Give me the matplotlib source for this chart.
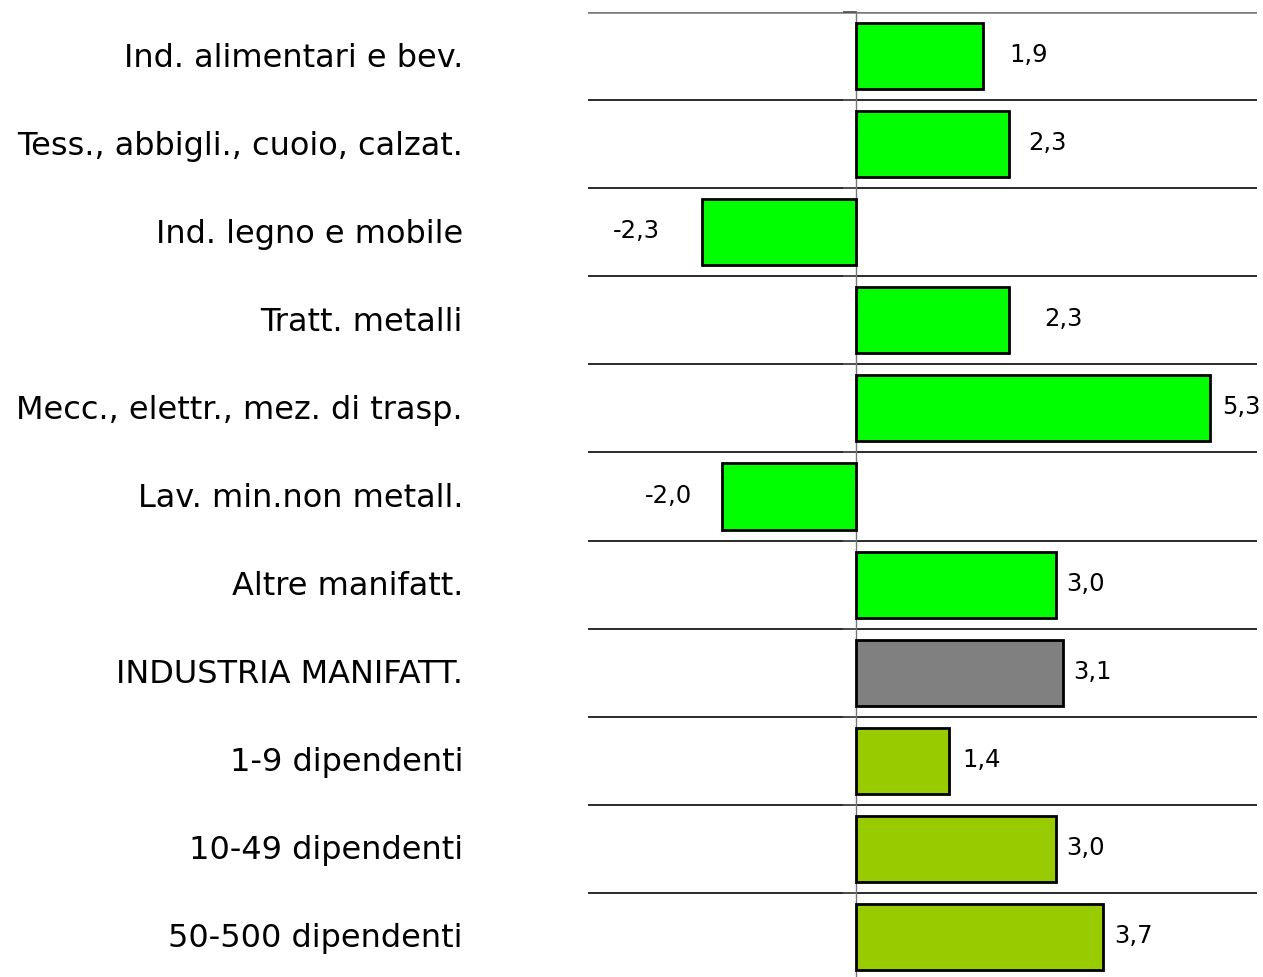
import matplotlib
matplotlib.use("Agg")
import matplotlib.pyplot as plt
from matplotlib.transforms import offset_copy

categories = [
    "Ind. alimentari e bev.",
    "Tess., abbigli., cuoio, calzat.",
    "Ind. legno e mobile",
    "Tratt. metalli",
    "Mecc., elettr., mez. di trasp.",
    "Lav. min.non metall.",
    "Altre manifatt.",
    "INDUSTRIA MANIFATT.",
    "1-9 dipendenti",
    "10-49 dipendenti",
    "50-500 dipendenti",
]
values = [1.9, 2.3, -2.3, 2.3, 5.3, -2.0, 3.0, 3.1, 1.4, 3.0, 3.7]
value_labels = ["1,9", "2,3", "-2,3", "2,3", "5,3", "-2,0", "3,0", "3,1", "1,4", "3,0", "3,7"]
groups = ["sector"] * 7 + ["total"] + ["size"] * 3

group_colors = {"sector": "#00FF00", "total": "#808080", "size": "#99CC00"}
# gap between bar end and value label (pixels), as placed in the original
label_gaps_px = [27, 19, 42, 35, 12, 30, 10, 10, 13, 10, 11]

plt.rcParams["font.family"] = ["DejaVu Sans"]

W, H, DPI = 1263, 977, 100
fig = plt.figure(figsize=(W / DPI, H / DPI), dpi=DPI)
ax = fig.add_axes([588 / W, 1 - 981 / H, 669 / W, 969 / H])

n = len(categories)
ypos = list(range(n))
colors = [group_colors[g] for g in groups]
ax.barh(ypos, values, height=0.75, color=colors, edgecolor="black", linewidth=2.0, zorder=3)

ax.set_xlim(-4, 6)
ax.set_ylim(n - 0.5, -0.5)
for s in ax.spines.values():
    s.set_visible(False)
ax.set_xticks([])
ax.set_yticks([])

# horizontal separators
for i in range(n + 1):
    b = i - 0.5
    col = "#777777" if i == 0 else "#1a1a1a"
    lw = 1.8 if i == 0 else 1.3
    ax.axhline(b, color=col, linewidth=lw, zorder=1)
    # small tick at zero line
    ax.plot([-0.18, 0], [b, b], color="#555555", linewidth=1.3, zorder=2, clip_on=False)

ax.axvline(0, color="#777777", linewidth=1.0, zorder=2)

# category labels
for i, c in enumerate(categories):
    tr = offset_copy(ax.get_yaxis_transform(), fig=fig, x=0, y=-2 * 72 / DPI, units="points")
    ax.text(-(588 - 463) / 669, i, c, transform=tr,
            ha="right", va="center", fontsize=23, color="black")

# value labels
for i, (v, lab, gap) in enumerate(zip(values, value_labels, label_gaps_px)):
    dx = gap * 72 / DPI * (1 if v >= 0 else -1)
    tr = offset_copy(ax.transData, fig=fig, x=dx, y=1 * 72 / DPI, units="points")
    ax.text(v, i, lab, transform=tr, ha="left" if v >= 0 else "right",
            va="center", fontsize=17.5, color="black", zorder=4)

fig.savefig("out.png", dpi=DPI)
